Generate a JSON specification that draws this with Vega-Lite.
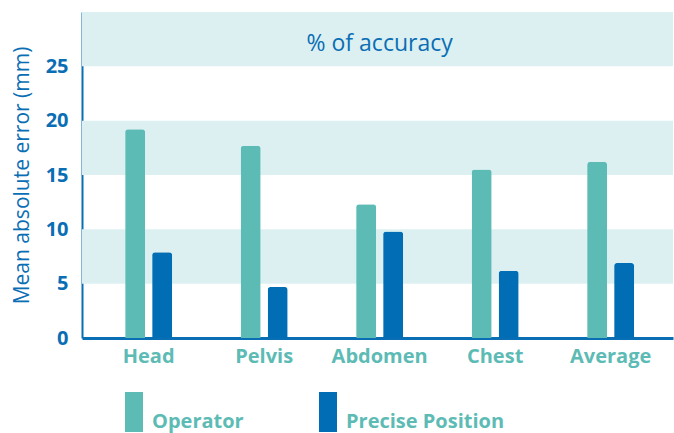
{
  "$schema": "https://vega.github.io/schema/vega-lite/v6.json",
  "width": 591,
  "height": 326,
  "autosize": {"type": "none"},
  "padding": {"left": 82, "top": 12, "right": 1, "bottom": 95},
  "config": {
    "view": {"stroke": null},
    "font": "Open Sans",
    "axisY": {
      "domainColor": "#0A6EB4", "domainWidth": 2, "ticks": false, "tickSize": 0, "grid": false,
      "labelFont": "Open Sans", "labelFontWeight": "bold", "labelFontSize": 20, "labelColor": "#0A6EB4", "labelPadding": 14,
      "titleFont": "Open Sans", "titleFontWeight": "normal", "titleFontSize": 21, "titleColor": "#0A6EB4", "titlePadding": 13
    },
    "axisX": {
      "domainColor": "#0A6EB4", "domainWidth": 3, "ticks": false, "tickSize": 0, "grid": false,
      "labelFont": "Open Sans", "labelFontWeight": "bold", "labelFontSize": 20, "labelColor": "#5DBBB5", "labelPadding": 8, "labelAngle": 0
    }
  },
  "datasets": {
    "bars": [
      {"part": "Head", "method": "Operator", "value": 19.2},
      {"part": "Head", "method": "Precise Position", "value": 7.9},
      {"part": "Pelvis", "method": "Operator", "value": 17.7},
      {"part": "Pelvis", "method": "Precise Position", "value": 4.7},
      {"part": "Abdomen", "method": "Operator", "value": 12.3},
      {"part": "Abdomen", "method": "Precise Position", "value": 9.8},
      {"part": "Chest", "method": "Operator", "value": 15.5},
      {"part": "Chest", "method": "Precise Position", "value": 6.2},
      {"part": "Average", "method": "Operator", "value": 16.2},
      {"part": "Average", "method": "Precise Position", "value": 6.9}
    ],
    "bands": [
      {"lo": 5, "hi": 10, "label": ""},
      {"lo": 15, "hi": 20, "label": ""},
      {"lo": 25, "hi": 30, "label": "% of accuracy"}
    ]
  },
  "layer": [
    {
      "data": {"name": "bands"},
      "mark": {"type": "rect", "color": "#DCF0F2"},
      "encoding": {
        "y": {"field": "lo", "type": "quantitative", "scale": {"domain": [0, 30], "nice": false},
              "axis": {"values": [0, 5, 10, 15, 20, 25], "title": "Mean absolute error (mm)"}},
        "y2": {"field": "hi"}
      }
    },
    {
      "data": {"name": "bars"},
      "mark": {"type": "bar", "cornerRadiusTopLeft": 3, "cornerRadiusTopRight": 3},
      "encoding": {
        "x": {"field": "part", "type": "nominal",
              "scale": {"domain": ["Head", "Pelvis", "Abdomen", "Chest", "Average"], "paddingInner": 0.5, "paddingOuter": 0.3085, "align": 0.53},
              "axis": {"title": null}},
        "xOffset": {"field": "method", "type": "nominal", "sort": ["Operator", "Precise Position"],
                    "scale": {"paddingInner": 0.259, "paddingOuter": 0.199}},
        "y": {"field": "value", "type": "quantitative", "axis": {"values": [0, 5, 10, 15, 20, 25], "title": "Mean absolute error (mm)"}},
        "color": {"field": "method", "type": "nominal",
                  "scale": {"domain": ["Operator", "Precise Position"], "range": ["#5DBBB5", "#006DB4"]},
                  "legend": {
                    "title": null, "orient": "none", "legendX": 32, "legendY": 380, "direction": "horizontal",
                    "symbolType": "M-0.45,-1H0.45V1H-0.45Z", "symbolSize": 1600, "symbolStrokeWidth": 0,
                    "labelFont": "Open Sans", "labelFontWeight": "bold", "labelFontSize": 20, "labelColor": "#5DBBB5",
                    "labelOffset": -2, "labelBaseline": "top", "columnPadding": 64, "labelLimit": 300
                  }}
      }
    },
    {
      "data": {"name": "bands"},
      "transform": [{"filter": "datum.label != ''"}],
      "mark": {"type": "text", "color": "#0A6EB4", "fontSize": 23, "font": "Open Sans"},
      "encoding": {
        "x": {"datum": "Abdomen"},
        "y": {"datum": 27.1},
        "text": {"field": "label"}
      }
    }
  ]
}
